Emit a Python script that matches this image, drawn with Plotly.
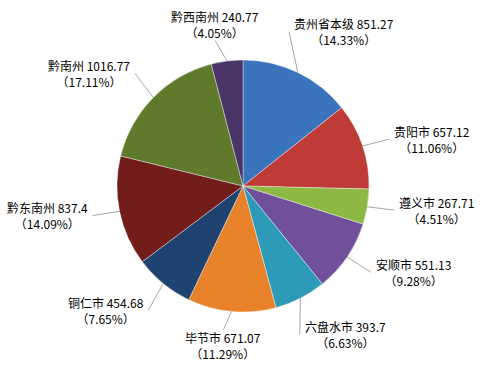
import math
import plotly.graph_objects as go

categories = ["贵州省本级", "贵阳市", "遵义市", "安顺市", "六盘水市",
              "毕节市", "铜仁市", "黔东南州", "黔南州", "黔西南州"]
values = [851.27, 657.12, 267.71, 551.13, 393.7,
          671.07, 454.68, 837.4, 1016.77, 240.77]
colors = ["#3A74BD", "#BE3B37", "#8DB843", "#71509B", "#2D9BB8",
          "#E8822A", "#1F4370", "#731C1C", "#5F7A2B", "#4A3366"]

W, H = 490, 366
CX, CY, R = 243, 186, 126
FS = 12
GAP = 15
LINE_H = 15
HSTRETCH = 1.35   # labels are pushed toward the horizontal


def px(x):
    return x / W


def py(y):
    return 1 - y / H


def text_w(s):
    w = 0.0
    for ch in s:
        if ord(ch) > 0x2E80:
            w += FS
        elif ch == " ":
            w += 5
        else:
            w += 6.4
    return w


total = sum(values)
fig = go.Figure(go.Pie(
    labels=categories, values=values, sort=False, direction="clockwise",
    rotation=0, textinfo="none", hoverinfo="label+value+percent",
    marker=dict(colors=colors, line=dict(color="rgba(255,255,255,0.55)", width=0.7)),
    domain=dict(x=[px(CX - R), px(CX + R)], y=[py(CY + R), py(CY - R)]),
    showlegend=False,
))

annotations = []
shapes = []
cum = 0.0
for name, v in zip(categories, values):
    mid = (cum + v / 2) / total * 2 * math.pi
    cum += v
    ux, uy = math.sin(mid), -math.cos(mid)
    pct = v / total * 100
    line1 = f"{name} {v:g}"
    line2 = f"（{pct:.2f}%）"
    w = max(text_w(line1), text_w(line2))
    h = 2 * LINE_H
    # label direction, stretched horizontally
    vx, vy = ux * HSTRETCH, uy
    n = math.hypot(vx, vy)
    vx, vy = vx / n, vy / n
    d = R + GAP + h / 2 + abs(vx) * w / 2
    tx, ty = CX + vx * d, CY + vy * d
    annotations.append(dict(
        x=px(tx), y=py(ty), xref="paper", yref="paper", showarrow=False,
        text=f"{line1}<br>{line2}", xanchor="center", yanchor="middle",
        font=dict(size=FS, color="#000000"), align="center",
    ))
    # leader line: from slice edge to facing edge of label box
    sx, sy = CX + ux * R, CY + uy * R
    if abs(vx) > 0.5:
        ex = tx - math.copysign(w / 2 + 3, vx)
        ey = ty
    else:
        ex = tx
        ey = ty - math.copysign(h / 2 + 1, vy)
    shapes.append(dict(type="line", xref="paper", yref="paper",
                       x0=px(sx), y0=py(sy), x1=px(ex), y1=py(ey),
                       line=dict(color="#A6A6A6", width=1)))

fig.update_layout(
    width=W, height=H, margin=dict(l=0, r=0, t=0, b=0),
    paper_bgcolor="white", plot_bgcolor="white",
    font=dict(family="Noto Sans CJK SC, Microsoft YaHei, sans-serif", size=FS),
    annotations=annotations, shapes=shapes,
)

fig.write_html("out.html")
